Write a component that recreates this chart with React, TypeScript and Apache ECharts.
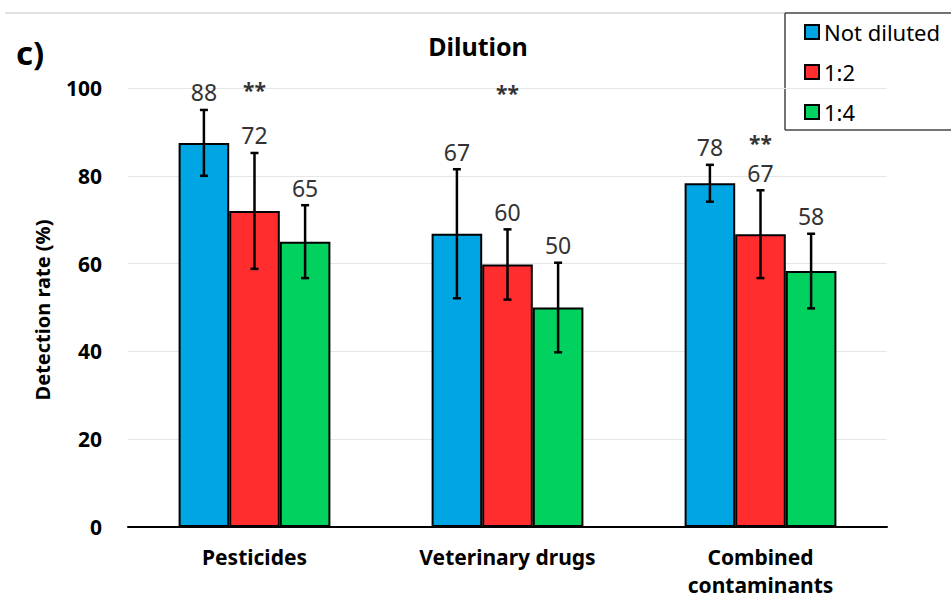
import React, { useEffect, useRef } from "react";
import * as echarts from "echarts";

const categories = ["Pesticides", "Veterinary drugs", "Combined\ncontaminants"];
const seriesNames = ["Not diluted", "1:2", "1:4"];
const notDiluted = [87.5, 66.8, 78.3];
const ratio12 = [72, 59.8, 66.7];
const ratio14 = [65, 50, 58.3];
const errNotDiluted = [7.5, 14.7, 4.2];
const errRatio12 = [13.2, 8, 10];
const errRatio14 = [8.3, 10.2, 8.5];
const starLevels = [99.6, 98.8, 87.4];
const starText = ["**", "**", "**"];
const yTicks = [0, 20, 40, 60, 80, 100];

const colors = ["#00A5E3", "#FF2D2D", "#00D15F"];
const FONT = "'Noto Sans', 'Open Sans', sans-serif";

export default function App() {
  const ref = useRef<HTMLDivElement>(null);
  useEffect(() => {
    document.body.style.margin = "0";
    document.body.style.overflow = "hidden";
    if (!ref.current) return;
    const chart = echarts.init(ref.current, undefined, { renderer: "svg" });
    const values = [notDiluted, ratio12, ratio14];
    const errs = [errNotDiluted, errRatio12, errRatio14];

    const barSeries = values.map((vals, i) => ({
      name: seriesNames[i],
      type: "bar",
      data: vals,
      barGap: "0%",
      barCategoryGap: "40%",
      itemStyle: { color: colors[i], borderColor: "#000", borderWidth: 2 },
      z: 2,
    }));

    const errSeries = values.map((vals, si) => ({
      name: "err" + si,
      type: "custom",
      z: 5,
      data: vals.map((v, ci) => [ci, v, errs[si][ci]]),
      renderItem: (params: any, api: any) => {
        const cat = api.value(0);
        const v = api.value(1);
        const e = api.value(2);
        const band = api.size([1, 0])[0];
        const x = api.coord([cat, 0])[0] + (si - 1) * band * 0.2;
        const yTop = api.coord([cat, v + e])[1];
        const yBot = api.coord([cat, v - e])[1];
        const cap = 4;
        const ls = { stroke: "#000", lineWidth: 2.5 };
        return {
          type: "group",
          children: [
            { type: "line", shape: { x1: x, y1: yTop, x2: x, y2: yBot }, style: ls },
            { type: "line", shape: { x1: x - cap, y1: yTop, x2: x + cap, y2: yTop }, style: ls },
            { type: "line", shape: { x1: x - cap, y1: yBot, x2: x + cap, y2: yBot }, style: ls },
            {
              type: "text",
              style: {
                text: String(Math.round(v)),
                x: x,
                y: yTop - 6,
                align: "center",
                verticalAlign: "bottom",
                fontSize: 23,
                fontFamily: FONT,
                fill: "#333",
              },
            },
          ],
        };
      },
    }));

    const starSeries = {
      name: "stars",
      type: "custom",
      z: 5,
      data: starLevels.map((v, ci) => [ci, v]),
      renderItem: (params: any, api: any) => {
        const cat = api.value(0);
        const v = api.value(1);
        const p = api.coord([cat, v]);
        return {
          type: "text",
          style: {
            text: starText[params.dataIndex],
            x: p[0],
            y: p[1],
            align: "center",
            verticalAlign: "middle",
            fontSize: 21,
            fontWeight: "bold",
            fontFamily: FONT,
            fill: "#333",
          },
        };
      },
    };

    const boxStyle = { stroke: "#444", lineWidth: 1.5 };

    chart.setOption({
      animation: false,
      grid: { left: 128, right: 64, top: 88, bottom: 71, containLabel: false },
      legend: {
        data: seriesNames,
        orient: "vertical",
        left: 804,
        top: 21,
        padding: 0,
        icon: "rect",
        itemWidth: 14,
        itemHeight: 14,
        itemGap: 18,
        textStyle: { fontSize: 22, color: "#000", fontFamily: FONT, lineHeight: 22 },
      },
      xAxis: {
        type: "category",
        data: categories,
        axisLine: { lineStyle: { color: "#000", width: 2 } },
        axisTick: { alignWithLabel: true, length: 5, lineStyle: { color: "#000", width: 2 } },
        axisLabel: {
          fontSize: 21,
          fontWeight: "bold",
          color: "#000",
          fontFamily: FONT,
          lineHeight: 28,
          margin: 16,
        },
      },
      yAxis: {
        type: "value",
        min: yTicks[0],
        max: yTicks[yTicks.length - 1],
        interval: 20,
        axisLine: { show: false },
        axisTick: { show: false },
        splitLine: { lineStyle: { color: "#e6e6e6", width: 1 } },
        axisLabel: { fontSize: 21, fontWeight: "bold", color: "#000", fontFamily: FONT, margin: 26 },
      },
      graphic: [
        { type: "line", shape: { x1: 5, y1: 13, x2: 785, y2: 13 }, style: { stroke: "#d9d9d9", lineWidth: 1.5 } },
        { type: "line", shape: { x1: 785, y1: 13, x2: 960, y2: 13 }, style: boxStyle },
        { type: "line", shape: { x1: 785, y1: 13, x2: 785, y2: 130 }, style: boxStyle },
        { type: "line", shape: { x1: 785, y1: 130, x2: 960, y2: 130 }, style: boxStyle },
        {
          type: "text",
          x: 478,
          y: 46,
          style: { text: "Dilution", align: "center", verticalAlign: "middle", fontSize: 25, fontWeight: "bold", fontFamily: FONT, fill: "#000" },
        },
        {
          type: "text",
          x: 16,
          y: 52,
          style: { text: "c)", align: "left", verticalAlign: "middle", fontSize: 33, fontWeight: "bold", fontFamily: FONT, fill: "#000" },
        },
        {
          type: "text",
          x: 42,
          y: 310,
          rotation: Math.PI / 2,
          style: { text: "Detection rate (%)", align: "center", verticalAlign: "middle", fontSize: 20, fontWeight: "bold", fontFamily: FONT, fill: "#000" },
        },
      ],
      series: [...barSeries, ...errSeries, starSeries],
    });
    return () => chart.dispose();
  }, []);
  return <div ref={ref} style={{ width: 951, height: 599 }} />;
}
